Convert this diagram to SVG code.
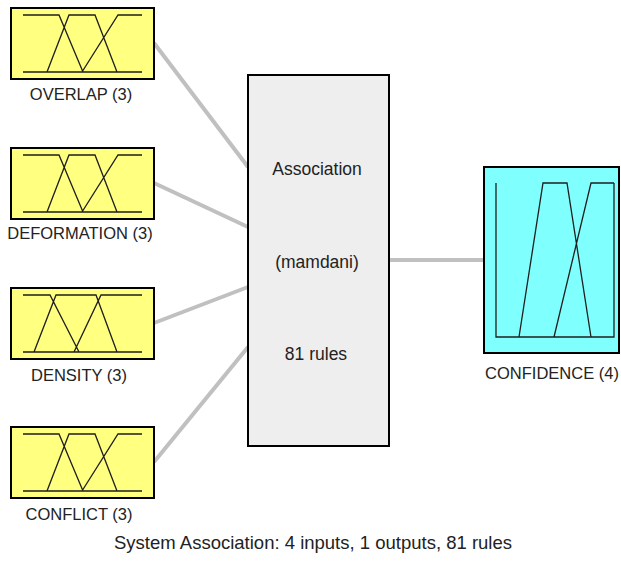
<svg xmlns="http://www.w3.org/2000/svg" width="621" height="562" viewBox="0 0 621 562">
<style>
.bg{fill:#ffffff}
.conn{stroke:#c0c0c0;stroke-width:4;fill:none;stroke-linecap:butt}
.inbox{fill:#ffff80;stroke:#000000;stroke-width:2}
.rulebox{fill:#eeeeee;stroke:#000000;stroke-width:2}
.outbox{fill:#80ffff;stroke:#000000;stroke-width:2}
.mf{fill:none;stroke:#1e1e1e;stroke-width:1.3;stroke-linejoin:miter}
.lbl{font-family:"Liberation Sans",Arial,sans-serif;font-size:16.5px;fill:#222222;text-anchor:middle}
.mid{font-family:"Liberation Sans",Arial,sans-serif;font-size:17.5px;fill:#222222;text-anchor:middle}
.cap{font-family:"Liberation Sans",Arial,sans-serif;font-size:18.5px;fill:#222222;text-anchor:middle}
</style>
<defs>
<g id="mfA">
<path class="mf" d="M23,8 L59,8 L83,65 M47,65 L69,8 L95,8 L117,65 M82,65 L118,8 L142,8 M23,65 L142,65"/>
</g>
<g id="mfB">
<path class="mf" d="M23,8 L50,8 L79,65 M34,65 L56,8 L96,8 L117,65 M74,65 L101,8 L142,8 M23,65 L142,65"/>
</g>
</defs>
<rect class="bg" x="0" y="0" width="621" height="562"/>
<g id="connectors">
<line class="conn" x1="154" y1="43" x2="248" y2="167"/>
<line class="conn" x1="154" y1="183" x2="248" y2="227"/>
<line class="conn" x1="154" y1="323" x2="248" y2="287"/>
<line class="conn" x1="154" y1="462" x2="248" y2="347"/>
<line class="conn" x1="389" y1="260" x2="484" y2="260"/>
</g>
<g id="overlap">
<rect class="inbox" x="11" y="8" width="143" height="71"/>
<use href="#mfA" x="0" y="7"/>
<text class="lbl" x="81" y="100">OVERLAP (3)</text>
</g>
<g id="deformation">
<rect class="inbox" x="11" y="148" width="143" height="71"/>
<use href="#mfA" x="0" y="147"/>
<text class="lbl" x="80" y="239">DEFORMATION (3)</text>
</g>
<g id="density">
<rect class="inbox" x="11" y="288" width="143" height="71"/>
<use href="#mfB" x="0" y="287"/>
<text class="lbl" x="79" y="381">DENSITY (3)</text>
</g>
<g id="conflict">
<rect class="inbox" x="11" y="427" width="143" height="71"/>
<use href="#mfA" x="0" y="426"/>
<text class="lbl" x="79" y="520">CONFLICT (3)</text>
</g>
<g id="association">
<rect class="rulebox" x="248" y="75" width="141" height="371"/>
<text class="mid" x="317" y="175">Association</text>
<text class="mid" x="317" y="268">(mamdani)</text>
<text class="mid" x="316" y="360">81 rules</text>
</g>
<g id="confidence">
<rect class="outbox" x="484" y="167" width="135" height="186"/>
<path class="mf" d="M496,183 L496,337 L614,337 L614,183 M519,337 L543,183 L567,183 L591,337 M554,337 L591,183 L614,183"/>
<text class="lbl" x="552" y="379">CONFIDENCE (4)</text>
</g>
<text class="cap" x="313" y="549">System Association: 4 inputs, 1 outputs, 81 rules</text>
</svg>
